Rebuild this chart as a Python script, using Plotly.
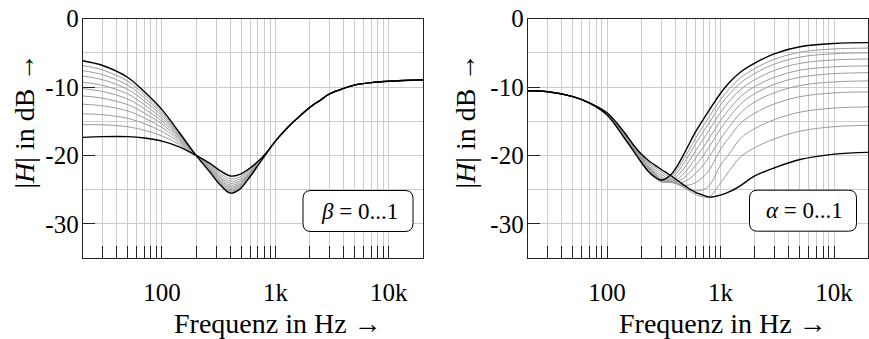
import math
import plotly.graph_objects as go

W, H = 869, 339

# ---------------- bass control family (left panel) ----------------
FREQ_BASS = [20, 30, 50, 70, 100, 140, 200, 260, 330, 400, 480, 580, 700, 850]
FREQ_BASS_HF = [1000, 1300, 1700, 2000, 2500, 3000, 4000, 5000, 7000, 10000, 20000]
BASS_HF_DB = [-17.9, -15.8, -14.0, -13.0, -11.9, -11.0, -10.2, -9.7, -9.35, -9.15, -8.93]  # all beta curves coincide here

BASS_00 = [-17.36, -17.25, -17.25, -17.45, -17.9, -18.7, -20.0, -21.1, -22.3, -23.0, -22.8, -22.0, -20.9, -19.4]
BASS_01 = [-15.5, -15.52, -15.81, -16.33, -17.14, -18.33, -20.0, -21.3, -22.65, -23.42, -23.17, -22.23, -21.0, -19.42]
BASS_02 = [-13.9, -14.04, -14.58, -15.36, -16.48, -18.02, -20.0, -21.47, -22.95, -23.77, -23.48, -22.43, -21.09, -19.43]
BASS_03 = [-12.5, -12.75, -13.5, -14.53, -15.91, -17.75, -20.0, -21.62, -23.21, -24.08, -23.75, -22.61, -21.16, -19.44]
BASS_04 = [-11.3, -11.63, -12.58, -13.81, -15.42, -17.51, -20.0, -21.75, -23.43, -24.35, -23.99, -22.76, -21.22, -19.45]
BASS_05 = [-10.24, -10.65, -11.76, -13.16, -14.98, -17.3, -20.0, -21.86, -23.63, -24.59, -24.2, -22.89, -21.28, -19.46]
BASS_06 = [-9.29, -9.76, -11.02, -12.59, -14.59, -17.12, -20.0, -21.96, -23.81, -24.8, -24.38, -23.01, -21.33, -19.47]
BASS_07 = [-8.4, -8.94, -10.34, -12.06, -14.22, -16.94, -20.0, -22.06, -23.98, -25.0, -24.56, -23.12, -21.38, -19.48]
BASS_08 = [-7.6, -8.19, -9.72, -11.57, -13.89, -16.78, -20.0, -22.15, -24.13, -25.18, -24.72, -23.22, -21.42, -19.49]
BASS_09 = [-6.85, -7.5, -9.14, -11.12, -13.59, -16.64, -20.0, -22.23, -24.27, -25.35, -24.86, -23.31, -21.46, -19.49]
BASS_10 = [-6.15, -6.85, -8.6, -10.7, -13.3, -16.5, -20.0, -22.3, -24.4, -25.5, -25.0, -23.4, -21.5, -19.5]

# ---------------- treble control family (right panel) ----------------
FREQ_TREBLE = [20, 30, 50, 70, 100, 140, 170, 200, 230, 260, 300, 360, 420, 500, 600, 700,
               800, 1000, 1200, 1500, 2000, 3000, 5000, 10000, 20000]

TREBLE_00 = [-10.54, -10.68, -11.4, -12.3, -13.75, -16.5, -18.4, -19.8, -20.7, -21.35, -22.05, -22.9, -23.7, -24.6,
             -25.4, -25.8, -26.1, -25.8, -25.3, -24.4, -23.0, -21.8, -20.6, -19.8, -19.55]
TREBLE_01 = [-10.54, -10.68, -11.4, -12.31, -13.79, -16.59, -18.5, -19.93, -20.93, -21.65, -22.39, -23.27, -24.05, -24.91,
             -25.71, -26.06, -26.02, -24.0, -22.2, -20.2, -18.85, -17.56, -16.45, -15.79, -15.6]
TREBLE_02 = [-10.54, -10.68, -11.4, -12.31, -13.83, -16.67, -18.59, -20.06, -21.15, -21.93, -22.75, -23.58, -24.23, -24.85,
             -25.2, -25.01, -24.35, -21.4, -19.7, -17.5, -16.06, -14.74, -13.67, -13.07, -12.9]
TREBLE_03 = [-10.54, -10.68, -11.4, -12.32, -13.87, -16.76, -18.7, -20.2, -21.36, -22.2, -23.11, -23.81, -24.23, -24.38,
             -23.99, -23.18, -22.06, -19.1, -17.3, -15.3, -13.81, -12.45, -11.41, -10.85, -10.7]
TREBLE_04 = [-10.54, -10.68, -11.4, -12.32, -13.9, -16.85, -18.79, -20.32, -21.55, -22.41, -23.39, -23.92, -24.05, -23.69,
             -22.66, -21.47, -20.14, -17.56, -15.78, -13.77, -12.17, -10.81, -9.77, -9.24, -9.1]
TREBLE_05 = [-10.54, -10.68, -11.4, -12.33, -13.93, -16.92, -18.88, -20.43, -21.7, -22.57, -23.59, -23.94, -23.76, -22.97,
             -21.5, -20.08, -18.67, -16.11, -14.37, -12.48, -10.96, -9.58, -8.56, -8.04, -7.9]
TREBLE_06 = [-10.54, -10.68, -11.4, -12.33, -13.97, -16.99, -18.95, -20.54, -21.83, -22.71, -23.74, -23.88, -23.4, -22.23,
             -20.43, -18.87, -17.42, -14.89, -13.18, -11.4, -9.93, -8.55, -7.53, -7.03, -6.9]
TREBLE_07 = [-10.54, -10.68, -11.4, -12.34, -14.0, -17.07, -19.04, -20.66, -21.96, -22.84, -23.85, -23.73, -22.93, -21.41,
             -19.34, -17.68, -16.2, -13.71, -12.03, -10.34, -8.93, -7.54, -6.53, -6.03, -5.9]
TREBLE_08 = [-10.54, -10.68, -11.4, -12.34, -14.03, -17.15, -19.13, -20.77, -22.09, -22.95, -23.89, -23.51, -22.39, -20.58,
             -18.32, -16.59, -15.1, -12.64, -11.0, -9.38, -8.01, -6.62, -5.61, -5.12, -5.0]
TREBLE_09 = [-10.54, -10.68, -11.4, -12.35, -14.06, -17.22, -19.21, -20.88, -22.19, -23.03, -23.75, -23.26, -21.91, -19.9,
             -17.52, -15.75, -14.25, -11.82, -10.2, -8.64, -7.3, -5.91, -4.9, -4.42, -4.3]
TREBLE_10 = [-10.54, -10.68, -11.4, -12.35, -14.1, -17.3, -19.3, -21.0, -22.3, -23.1, -23.6, -22.9, -21.4, -19.1,
             -16.6, -14.8, -13.3, -10.9, -9.3, -7.8, -6.5, -5.1, -4.1, -3.62, -3.5]

# ---------------- ticks and labels ----------------
X_MAJOR_LABELS = {100: "100", 1000: "1k", 10000: "10k"}
Y_TICKS = [-30, -20, -10, 0]
Y_TICK_TEXT = ["-30", "-20", "-10", "0"]
Y_GRID_MINOR = [-25, -15, -5]
X_TITLE = "Frequenz in Hz →"
Y_TITLE = "|<i>H</i>| in dB →"
BOX_LEFT = "<i>β</i> = 0...1"
BOX_RIGHT = "<i>α</i> = 0...1"

FONT = "Liberation Serif"
GRID = "#cccccc"
FRAME = "#222222"
GRAY_LINE = "#9a9a9a"

# panel geometry in pixels
PANEL_TOP, PANEL_BOTTOM = 18.7, 258.0
LEFT_X = (82.7, 423.0)
RIGHT_X = (527.7, 868.3)


def px_x(v):
    return v / W


def px_y(v):
    return 1 - v / H


grid_freqs = [m * 10 ** e for e in range(1, 5) for m in range(1, 10) if 20 <= m * 10 ** e <= 20000]
grid_text = [X_MAJOR_LABELS.get(f, "") for f in grid_freqs]

fig = go.Figure()


def add_curve(xs, ys, xa, ya, black):
    fig.add_trace(go.Scatter(
        x=xs, y=ys, mode="lines", xaxis=xa, yaxis=ya, hoverinfo="skip", showlegend=False,
        line=dict(color="#000000" if black else GRAY_LINE, width=1.4 if black else 1.0,
                  shape="spline", smoothing=1.0)))


bass = [BASS_00, BASS_01, BASS_02, BASS_03, BASS_04, BASS_05,
        BASS_06, BASS_07, BASS_08, BASS_09, BASS_10]
treble = [TREBLE_00, TREBLE_01, TREBLE_02, TREBLE_03, TREBLE_04, TREBLE_05,
          TREBLE_06, TREBLE_07, TREBLE_08, TREBLE_09, TREBLE_10]

# gray inner curves first, the two limiting curves in black on top
for i, c in enumerate(bass):
    if 0 < i < 10:
        add_curve(FREQ_BASS + FREQ_BASS_HF, c + BASS_HF_DB, "x", "y", False)
for i in (0, 10):
    add_curve(FREQ_BASS + FREQ_BASS_HF, bass[i] + BASS_HF_DB, "x", "y", True)

for i, c in enumerate(treble):
    if 0 < i < 10:
        add_curve(FREQ_TREBLE, c, "x2", "y2", False)
for i in (0, 10):
    add_curve(FREQ_TREBLE, treble[i], "x2", "y2", True)

tick_font = dict(family=FONT, size=25, color="#000000")


def x_axis(dom, anchor):
    return dict(
        type="log", range=[math.log10(20), math.log10(20000)],
        domain=[px_x(dom[0]), px_x(dom[1])], anchor=anchor, automargin=False,
        tickmode="array", tickvals=grid_freqs, ticktext=grid_text,
        ticks="inside", ticklen=12, tickwidth=1, tickcolor=FRAME,
        ticklabelstandoff=12, tickfont=tick_font,
        showgrid=True, gridcolor=GRID, gridwidth=1,
        showline=True, linecolor=FRAME, linewidth=1, mirror=True,
        zeroline=False, fixedrange=True)


def y_axis(anchor):
    return dict(
        range=[-35, 0], domain=[px_y(PANEL_BOTTOM), px_y(PANEL_TOP)], anchor=anchor, automargin=False,
        tickmode="array", tickvals=Y_TICKS, ticktext=Y_TICK_TEXT,
        ticks="inside", ticklen=12, tickwidth=1, tickcolor=FRAME,
        ticklabelstandoff=-2, tickfont=tick_font,
        showgrid=True, gridcolor=GRID, gridwidth=1,
        minor=dict(tickvals=Y_GRID_MINOR, showgrid=True, gridcolor=GRID, gridwidth=1, ticks=""),
        showline=True, linecolor=FRAME, linewidth=1, mirror=True,
        zeroline=False, fixedrange=True)


annotations = []
shapes = []
title_font = dict(family=FONT, size=28, color="#000000")
box_font = dict(family=FONT, size=23, color="#000000")


def panel_labels(x_title_cx, y_title_cx, box_cx, box_cy, box_text, box_w):
    annotations.append(dict(
        text=X_TITLE, x=px_x(x_title_cx), y=px_y(323), xref="paper", yref="paper",
        xanchor="center", yanchor="middle", showarrow=False, font=title_font))
    annotations.append(dict(
        text=Y_TITLE, x=px_x(y_title_cx), y=px_y(121.5), xref="paper", yref="paper",
        xanchor="center", yanchor="middle", showarrow=False, textangle=-90, font=title_font))
    annotations.append(dict(
        text=box_text, x=px_x(box_cx + 1), y=px_y(box_cy), xref="paper", yref="paper",
        xanchor="center", yanchor="middle", showarrow=False, font=box_font))
    # rounded frame around the parameter note
    hw, hh, r = box_w / 2, 20.5, 8
    path = (f"M {-hw + r},{-hh} L {hw - r},{-hh} Q {hw},{-hh} {hw},{-hh + r} "
            f"L {hw},{hh - r} Q {hw},{hh} {hw - r},{hh} L {-hw + r},{hh} "
            f"Q {-hw},{hh} {-hw},{hh - r} L {-hw},{-hh + r} Q {-hw},{-hh} {-hw + r},{-hh} Z")
    shapes.append(dict(
        type="path", path=path, xref="paper", yref="paper",
        xsizemode="pixel", ysizemode="pixel", xanchor=px_x(box_cx), yanchor=px_y(box_cy),
        line=dict(color="#000000", width=1), fillcolor="rgba(255,255,255,1)", layer="above"))


panel_labels(278, 24, 358, 211, BOX_LEFT, 110)
panel_labels(722.5, 465, 803, 210.7, BOX_RIGHT, 107)

fig.update_layout(
    width=W, height=H, margin=dict(l=0, r=0, t=0, b=0, autoexpand=False),
    paper_bgcolor="#ffffff", plot_bgcolor="#ffffff",
    xaxis=x_axis(LEFT_X, "y"), yaxis=y_axis("x"),
    xaxis2=x_axis(RIGHT_X, "y2"), yaxis2=y_axis("x2"),
    annotations=annotations, shapes=shapes, showlegend=False,
    font=dict(family=FONT, color="#000000"))

fig.write_html("out.html")
